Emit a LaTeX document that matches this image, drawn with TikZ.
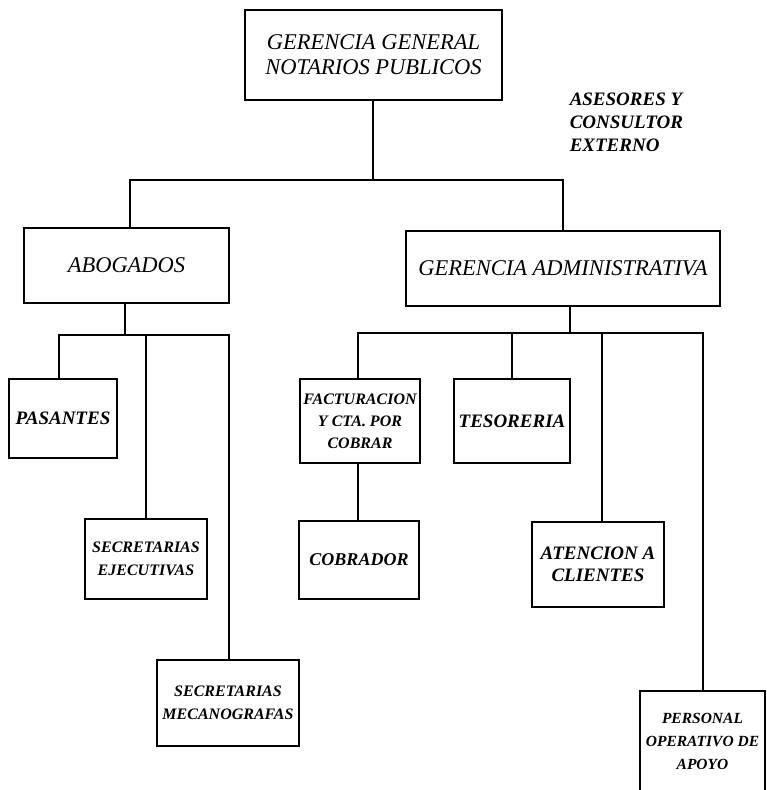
\documentclass[tikz,border=0pt]{standalone}
\usepackage{fontspec}
\setmainfont{Liberation Serif}
\begin{document}
\begin{tikzpicture}[x=1pt,y=-1pt,line width=1.5pt,
  caja/.style={draw,inner sep=1pt,align=center,font=\itshape\fontsize{22.5}{25}\selectfont},
  chica/.style={caja,font=\bfseries\itshape\fontsize{19}{22}\selectfont}]
\useasboundingbox (0,0) rectangle (766,790);
% cabeza y asesores
\node[caja,minimum width=257pt,minimum height=90pt] (gg) at (373.5,55) {GERENCIA GENERAL\\NOTARIOS PUBLICOS};
\node[anchor=north west,align=left,inner sep=0pt,font=\bfseries\itshape\fontsize{19}{23}\selectfont] (ases) at (569,92) {ASESORES Y\\CONSULTOR\\EXTERNO};
% segundo nivel
\node[caja,minimum width=205pt,minimum height=75pt] (abog) at (126.5,265.5) {ABOGADOS};
\node[caja,minimum width=314pt,minimum height=75pt] (gadm) at (563,268.5) {GERENCIA ADMINISTRATIVA};
\coordinate (bus1) at (0,180);
\draw ([xshift=-0.5pt]gg.south) -- ([xshift=-0.5pt]gg.south |- bus1);
\draw ([xshift=3.5pt]abog.north) -- ([xshift=3.5pt]abog.north |- bus1) -- (gadm.north |- bus1) -- (gadm.north);
% abogados
\node[chica,minimum width=108pt,minimum height=79pt] (pas) at (63,418.5) {PASANTES};
\node[chica,minimum width=122pt,minimum height=80pt,font=\bfseries\itshape\fontsize{16}{23}\selectfont] (secej) at (146,559) {SECRETARIAS\\EJECUTIVAS};
\node[chica,minimum width=142pt,minimum height=86pt,font=\bfseries\itshape\fontsize{16}{23}\selectfont] (secmec) at (228,703) {SECRETARIAS\\MECANOGRAFAS};
\coordinate (bus2) at (0,335);
\draw ([xshift=-1.5pt]abog.south) -- ([xshift=-1.5pt]abog.south |- bus2);
\draw ([xshift=-4pt]pas.north) -- ([xshift=-4pt]pas.north |- bus2) -- ([xshift=1pt]secmec.north |- bus2) -- ([xshift=1pt]secmec.north);
\draw (secej.north) -- (secej.north |- bus2);
% gerencia administrativa
\node[chica,minimum width=120pt,minimum height=84pt,font=\bfseries\itshape\fontsize{16}{22}\selectfont] (fact) at (360,421) {FACTURACION\\Y CTA. POR\\COBRAR};
\node[chica,minimum width=120pt,minimum height=78pt,font=\bfseries\itshape\fontsize{18}{22}\selectfont] (cobr) at (359,560) {COBRADOR};
\node[chica,minimum width=116pt,minimum height=84pt] (teso) at (512,421) {TESORERIA};
\node[chica,minimum width=132pt,minimum height=85pt] (aten) at (598,564.5) {ATENCION A\\CLIENTES};
\node[chica,minimum width=125pt,minimum height=101pt,font=\bfseries\itshape\fontsize{15.5}{23}\selectfont] (pers) at (702.5,741.5) {PERSONAL\\OPERATIVO DE\\APOYO};
\coordinate (bus3) at (0,333);
\draw ([xshift=7pt]gadm.south) -- ([xshift=7pt]gadm.south |- bus3);
\draw ([xshift=-2pt]fact.north) -- ([xshift=-2pt]fact.north |- bus3) -- ([xshift=0.5pt]pers.north |- bus3) -- ([xshift=0.5pt]pers.north);
\draw (teso.north) -- (teso.north |- bus3);
\draw ([xshift=4pt]aten.north) -- ([xshift=4pt]aten.north |- bus3);
\draw ([xshift=-2pt]fact.south) -- ([xshift=-1pt]cobr.north);
\end{tikzpicture}
\end{document}
